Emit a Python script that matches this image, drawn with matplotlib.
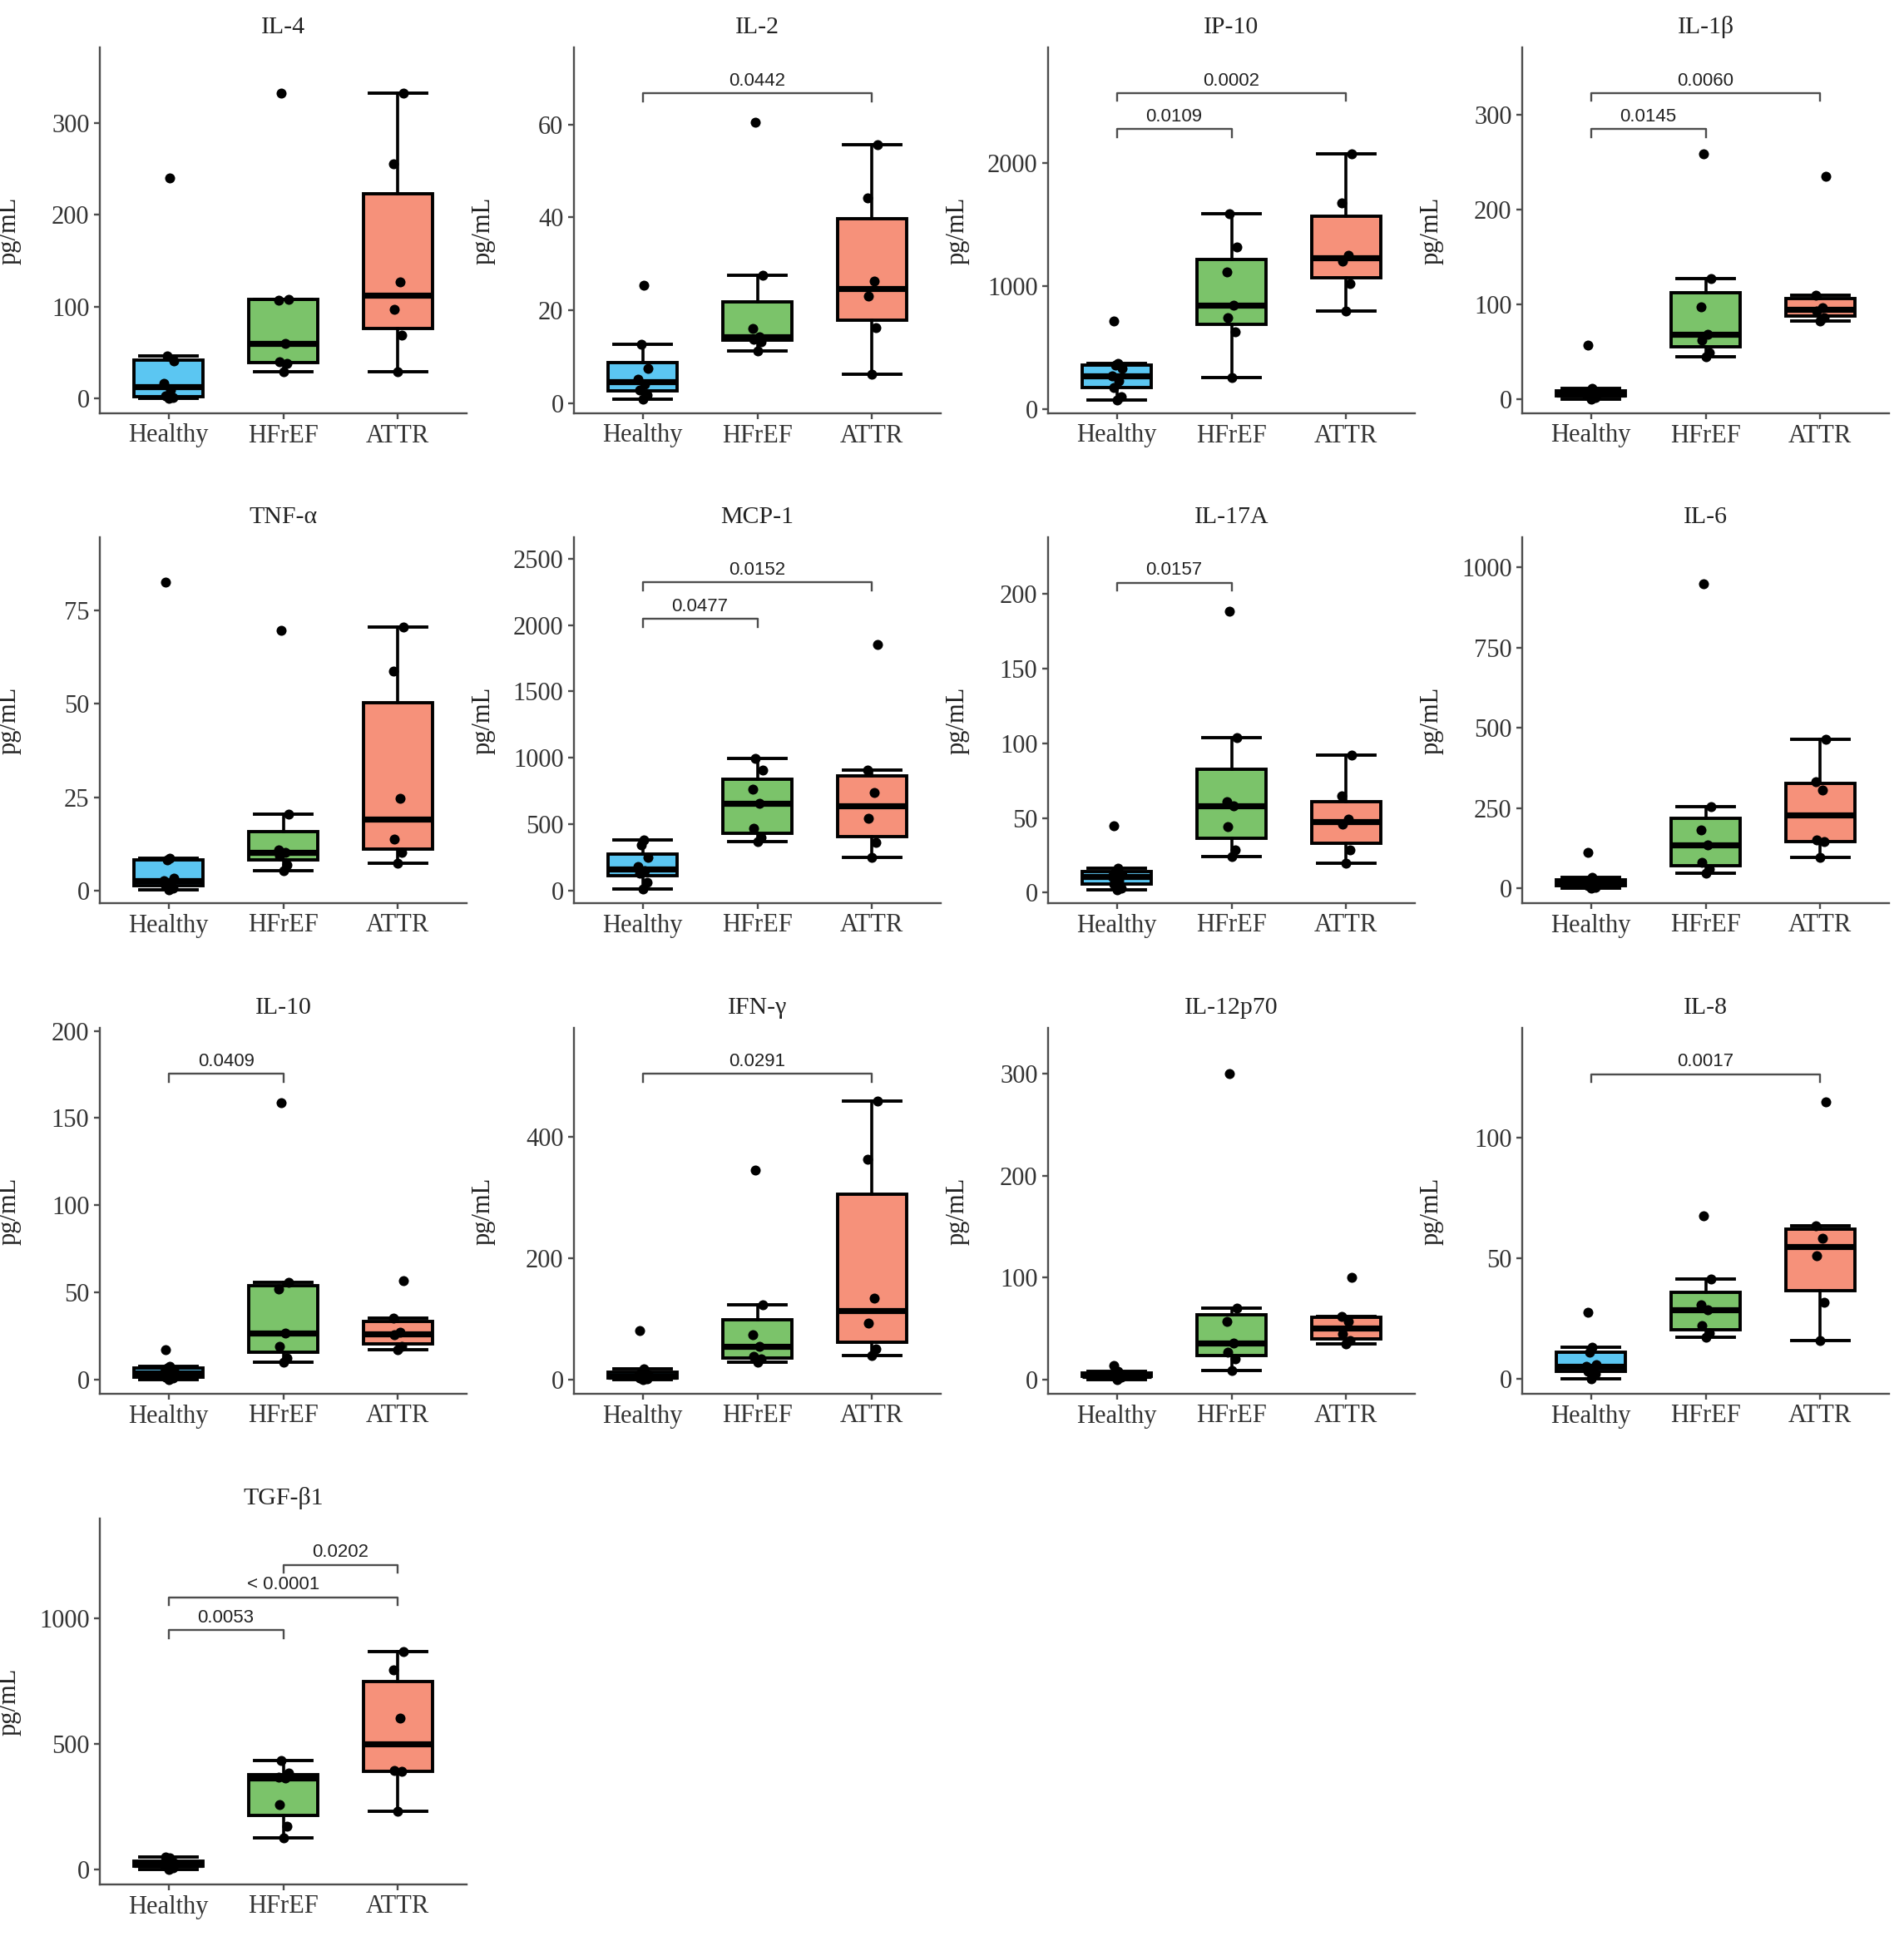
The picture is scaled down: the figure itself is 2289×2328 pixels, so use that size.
"""Cytokine levels by group: box plots with individual points and p-value brackets."""

import matplotlib
matplotlib.use('Agg')
import matplotlib.pyplot as plt
import numpy as np

groups = ['Healthy', 'HFrEF', 'ATTR']
group_colors = ['#5BC6F2', '#7BC36A', '#F6917A']

# values, one list per group (Healthy, HFrEF, ATTR)
IL4 = ([0, 1, 3, 9, 17, 41, 46, 240],
       [29, 38, 40, 60, 107, 108, 332],
       [29, 69, 97, 127, 255, 332])
IL2 = ([0.9, 1.8, 2.9, 4.0, 5.2, 7.4, 12.6, 25.4],
       [11.2, 13.2, 13.8, 14.3, 16.0, 27.5, 60.5],
       [6.2, 16.2, 23.0, 26.3, 44.2, 55.7])
IP10 = ([73, 100, 174, 230, 266, 330, 355, 370, 713],
        [254, 629, 742, 846, 1112, 1318, 1589],
        [798, 1016, 1202, 1250, 1673, 2072])
IL1B = ([0, 2, 3, 4, 5, 7, 9, 11, 57],
        [45, 49, 62, 68, 97, 127, 259],
        [82, 86, 93, 96, 110, 235])
TNFA = ([0.3, 0.6, 1.3, 2.0, 2.6, 3.4, 8.2, 8.8, 82.6],
        [5.3, 7.0, 9.4, 10.2, 11.0, 20.5, 69.5],
        [7.4, 10.2, 13.8, 24.7, 58.7, 70.6])
MCP1 = ([15, 60, 130, 150, 180, 253, 343, 383],
        [370, 399, 470, 656, 762, 910, 997],
        [253, 365, 544, 739, 909, 1855])
IL17A = ([2, 3, 6, 8, 11, 12, 14, 16.5, 44.8],
         [24, 28.9, 44, 58, 61, 103.9, 188.5],
         [20, 28.9, 45.8, 49.2, 64.7, 92])
IL6 = ([0, 3, 8, 12, 15, 20, 26, 33, 113],
       [46, 60, 80.5, 134, 183, 255, 949],
       [97, 145, 150, 305, 333, 465])
IL10 = ([0, 1, 1.5, 2.5, 3.5, 5, 6.5, 7.5, 17],
        [9.7, 12.3, 19, 26.8, 52, 55.5, 159],
        [17, 19, 25.5, 27, 35.3, 56.7])
IFNG = ([0, 1, 2, 4, 5, 8, 12, 17, 80],
        [28, 34, 38, 54, 74, 123.7, 345.5],
        [40, 51, 92.8, 133.5, 362.7, 459])
IL12P70 = ([0, 2, 3, 3.5, 4, 5, 6, 8, 14],
           [8.5, 20.5, 27, 36, 57, 70, 300],
           [34.8, 38, 45, 56.7, 62, 100.5])
IL8 = ([0, 2, 3, 4, 5.2, 6, 11, 13, 27.8],
       [17.3, 19.1, 22, 28.6, 30.6, 41.4, 67.7],
       [16, 31.7, 51.2, 58.3, 63.6, 115])
TGFB1 = ([0, 5, 12, 15, 20, 25, 33, 45, 50],
         [125, 170, 257, 362, 368, 383, 434],
         [230, 390, 395, 602, 795, 867])

# p-value brackets: (group a, group b, height, label)
IL2_P = [(1, 3, 66.7, '0.0442')]
IP10_P = [(1, 3, 2568, '0.0002'), (1, 2, 2273, '0.0109')]
IL1B_P = [(1, 3, 323, '0.0060'), (1, 2, 285, '0.0145')]
MCP1_P = [(1, 3, 2321, '0.0152'), (1, 2, 2045, '0.0477')]
IL17A_P = [(1, 2, 207.6, '0.0157')]
IL10_P = [(1, 2, 175.3, '0.0409')]
IFNG_P = [(1, 3, 504, '0.0291')]
IL8_P = [(1, 3, 126.5, '0.0017')]
TGFB1_P = [(2, 3, 1212, '0.0202'), (1, 3, 1083, '< 0.0001'), (1, 2, 951, '0.0053')]

# (title, data, brackets, y ticks, y limits)
panels = [
    ('IL-4', IL4, [], [0, 100, 200, 300], (-16, 382)),
    ('IL-2', IL2, IL2_P, [0, 20, 40, 60], (-2.2, 76.6)),
    ('IP-10', IP10, IP10_P, [0, 1000, 2000], (-36, 2938)),
    ('IL-1β', IL1B, IL1B_P, [0, 100, 200, 300], (-15, 371)),
    ('TNF-α', TNFA, [], [0, 25, 50, 75], (-3.3, 94.5)),
    ('MCP-1', MCP1, MCP1_P, [0, 500, 1000, 1500, 2000, 2500], (-94, 2661)),
    ('IL-17A', IL17A, IL17A_P, [0, 50, 100, 150, 200], (-7, 238)),
    ('IL-6', IL6, [], [0, 250, 500, 750, 1000], (-46, 1093)),
    ('IL-10', IL10, IL10_P, [0, 50, 100, 150, 200], (-8.2, 201.7)),
    ('IFN-γ', IFNG, IFNG_P, [0, 200, 400], (-23.6, 580)),
    ('IL-12p70', IL12P70, [], [0, 100, 200, 300], (-14, 345)),
    ('IL-8', IL8, IL8_P, [0, 50, 100], (-6.2, 145.7)),
    ('TGF-β1', TGFB1, TGFB1_P, [0, 500, 1000], (-60, 1396)),
]

W, H = 2289, 2328
fig = plt.figure(figsize=(W / 100, H / 100), dpi=100, facecolor='white')

serif = ['Liberation Serif', 'DejaVu Serif']
sans = ['Liberation Sans', 'DejaVu Sans']
lefts = [120, 690, 1260, 1830]
tops = [57, 646, 1236, 1826]
ax_w, ax_h = 441, 440
jitter = [0.0, 0.035, -0.03, 0.02, -0.04, 0.045, -0.015, 0.01, -0.025]
line_col = '#4D4D4D'

for k, (title, data, brackets, yticks, ylim) in enumerate(panels):
    row, col = divmod(k, 4)
    ax = fig.add_axes([lefts[col] / W, 1 - (tops[row] + ax_h) / H, ax_w / W, ax_h / H])

    bp = ax.boxplot(data, positions=[1, 2, 3], widths=0.6, whis=1.5,
                    showfliers=False, patch_artist=True, capwidths=0.5,
                    boxprops=dict(linewidth=2.8, edgecolor='black'),
                    medianprops=dict(color='black', linewidth=5.2),
                    whiskerprops=dict(color='black', linewidth=2.6),
                    capprops=dict(color='black', linewidth=2.8))
    for patch, c in zip(bp['boxes'], group_colors):
        patch.set_facecolor(c)

    for i, vals in enumerate(data):
        xs = [i + 1 + jitter[j % len(jitter)] for j in range(len(vals))]
        ax.scatter(xs, vals, s=75, color='black', zorder=5, linewidths=0)

    ax.set_xlim(0.4, 3.6)
    ax.set_ylim(*ylim)
    ax.set_yticks(yticks)
    ax.set_xticks([1, 2, 3])
    ax.set_xticklabels(groups)

    # significance brackets
    drop = 0.022 * (ylim[1] - ylim[0])
    for a, b, y, label in brackets:
        ax.plot([a, a, b, b], [y - drop, y, y, y - drop], color=line_col,
                linewidth=1.7, clip_on=False, zorder=6)
        ax.annotate(label, xy=((a + b) / 2, y), xytext=(0, 3),
                    textcoords='offset points', ha='center', va='bottom',
                    fontsize=16, family=sans, color='#222222')

    for side in ['top', 'right']:
        ax.spines[side].set_visible(False)
    for side in ['left', 'bottom']:
        ax.spines[side].set_color(line_col)
        ax.spines[side].set_linewidth(1.7)
    ax.tick_params(axis='both', colors=line_col, length=5, width=1.7,
                   labelsize=22, labelcolor='#333333', pad=4)
    for lab in ax.get_xticklabels() + ax.get_yticklabels():
        lab.set_family(serif)

    ax.set_title(title, fontsize=21.5, family=serif, pad=12, color='#222222')
    ax.set_ylabel('pg/mL', fontsize=22, family=serif, color='#222222')
    ax.yaxis.set_label_coords(-0.215, 0.5)

fig.savefig('out.png', dpi=100, facecolor='white')
